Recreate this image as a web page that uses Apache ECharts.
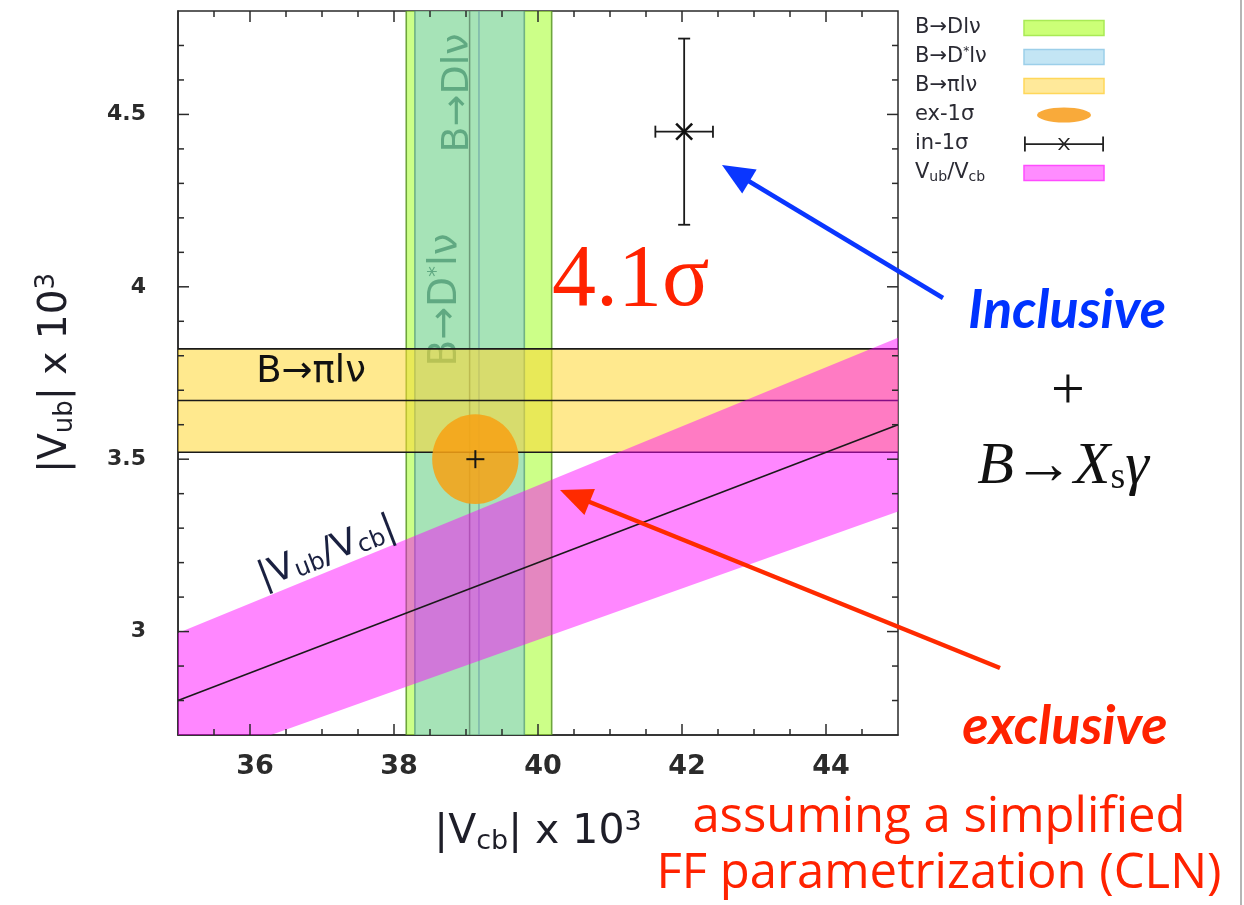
<!DOCTYPE html>
<html><head><meta charset="utf-8">
<script src="https://cdn.jsdelivr.net/npm/echarts@6/dist/echarts.min.js"></script>
<style>html,body{margin:0;padding:0;background:#fff}#c{width:1244px;height:905px}</style>
</head><body><div id="c"></div>
<script>
// ---------- data ----------
const xRange = [35, 45];
const yRange = [2.7, 4.8];
const xMajorTicks = [36, 38, 40, 42, 44];
const xMinorTicks = [35.5, 36.5, 37, 37.5, 38.5, 39, 39.5, 40.5, 41, 41.5, 42.5, 43, 43.5, 44.5];
const yMajorTicks = [3, 3.5, 4, 4.5];
const yMinorTicks = [2.8, 2.9, 3.1, 3.2, 3.3, 3.4, 3.6, 3.7, 3.8, 3.9, 4.1, 4.2, 4.3, 4.4, 4.6, 4.7];
const seriesNames = ['B→Dlν', 'B→D*lν', 'B→πlν', 'ex-1σ', 'in-1σ', 'Vub/Vcb'];
const bDlnu = [38.17, 40.19, 39.18];      // |Vcb| low, high, central
const bDstarlnu = [38.29, 39.81, 39.05];  // |Vcb| low, high, central
const bPilnu = [3.52, 3.82, 3.67];        // |Vub| low, high, central
const exclusive1s = [39.13, 3.50, 0.60, 0.13]; // x, y, dx, dy
const inclusive1s = [42.03, 4.45, 0.40, 0.27]; // x, y, dx, dy
const vubVcbRatio = [0.0744, 0.0856, 0.0800];  // low, high, central

// ---------- helpers ----------
function clipPoly(pts, r) {
  const X0 = r.x, X1 = r.x + r.width, Y0 = r.y, Y1 = r.y + r.height;
  const edges = [
    [p => p[0] >= X0, (a, b) => { const t = (X0 - a[0]) / (b[0] - a[0]); return [X0, a[1] + t * (b[1] - a[1])]; }],
    [p => p[0] <= X1, (a, b) => { const t = (X1 - a[0]) / (b[0] - a[0]); return [X1, a[1] + t * (b[1] - a[1])]; }],
    [p => p[1] >= Y0, (a, b) => { const t = (Y0 - a[1]) / (b[1] - a[1]); return [a[0] + t * (b[0] - a[0]), Y0]; }],
    [p => p[1] <= Y1, (a, b) => { const t = (Y1 - a[1]) / (b[1] - a[1]); return [a[0] + t * (b[0] - a[0]), Y1]; }]
  ];
  let out = pts;
  for (const [inside, inter] of edges) {
    const inp = out; out = [];
    for (let i = 0; i < inp.length; i++) {
      const cur = inp[i], prev = inp[(i + inp.length - 1) % inp.length];
      if (inside(cur)) { if (!inside(prev)) out.push(inter(prev, cur)); out.push(cur); }
      else if (inside(prev)) out.push(inter(prev, cur));
    }
  }
  return out;
}
function vBand(fill, edgeColor, centerColor) {
  return function (params, api) {
    const lo = api.value(0), hi = api.value(1), c = api.value(2);
    const a = api.coord([lo, yRange[1]]), b = api.coord([hi, yRange[0]]), m = api.coord([c, yRange[0]]);
    return { type: 'group', children: [
      { type: 'rect', shape: { x: a[0], y: a[1], width: b[0] - a[0], height: b[1] - a[1] }, style: { fill: fill } },
      { type: 'line', shape: { x1: a[0], y1: a[1], x2: a[0], y2: b[1] }, style: { stroke: edgeColor, lineWidth: 1.6 } },
      { type: 'line', shape: { x1: b[0], y1: a[1], x2: b[0], y2: b[1] }, style: { stroke: edgeColor, lineWidth: 1.6 } },
      { type: 'line', shape: { x1: m[0], y1: a[1], x2: m[0], y2: b[1] }, style: { stroke: centerColor, lineWidth: 1.5 } }
    ]};
  };
}
function hBand(fill, edgeColor, centerColor) {
  return function (params, api) {
    const lo = api.value(0), hi = api.value(1), c = api.value(2);
    const a = api.coord([xRange[0], hi]), b = api.coord([xRange[1], lo]), m = api.coord([xRange[1], c]);
    return { type: 'group', children: [
      { type: 'rect', shape: { x: a[0], y: a[1], width: b[0] - a[0], height: b[1] - a[1] }, style: { fill: fill } },
      { type: 'line', shape: { x1: a[0], y1: a[1], x2: b[0], y2: a[1] }, style: { stroke: edgeColor, lineWidth: 1.6 } },
      { type: 'line', shape: { x1: a[0], y1: b[1], x2: b[0], y2: b[1] }, style: { stroke: edgeColor, lineWidth: 1.6 } },
      { type: 'line', shape: { x1: a[0], y1: m[1], x2: b[0], y2: m[1] }, style: { stroke: centerColor, lineWidth: 1.5 } }
    ]};
  };
}
function ellipseItem(params, api) {
  const c = api.coord([api.value(0), api.value(1)]);
  const s = api.size([api.value(2), api.value(3)]);
  return { type: 'group', children: [
    { type: 'ellipse', shape: { cx: c[0], cy: c[1], rx: s[0], ry: s[1] }, style: { fill: 'rgba(247,162,20,0.86)' } },
    { type: 'line', shape: { x1: c[0] - 9, y1: c[1], x2: c[0] + 9, y2: c[1] }, style: { stroke: '#151515', lineWidth: 2 } },
    { type: 'line', shape: { x1: c[0], y1: c[1] - 9, x2: c[0], y2: c[1] + 9 }, style: { stroke: '#151515', lineWidth: 2 } }
  ]};
}
function errItem(params, api) {
  const x = api.value(0), y = api.value(1), dx = api.value(2), dy = api.value(3);
  const c = api.coord([x, y]), l = api.coord([x - dx, y]), r = api.coord([x + dx, y]);
  const t = api.coord([x, y + dy]), b = api.coord([x, y - dy]);
  const st = { stroke: '#1a1a1a', lineWidth: 1.8 };
  const cap = 6, k = 8;
  return { type: 'group', children: [
    { type: 'line', shape: { x1: l[0], y1: c[1], x2: r[0], y2: c[1] }, style: st },
    { type: 'line', shape: { x1: c[0], y1: t[1], x2: c[0], y2: b[1] }, style: st },
    { type: 'line', shape: { x1: l[0], y1: c[1] - cap, x2: l[0], y2: c[1] + cap }, style: st },
    { type: 'line', shape: { x1: r[0], y1: c[1] - cap, x2: r[0], y2: c[1] + cap }, style: st },
    { type: 'line', shape: { x1: c[0] - cap, y1: t[1], x2: c[0] + cap, y2: t[1] }, style: st },
    { type: 'line', shape: { x1: c[0] - cap, y1: b[1], x2: c[0] + cap, y2: b[1] }, style: st },
    { type: 'line', shape: { x1: c[0] - k, y1: c[1] - k, x2: c[0] + k, y2: c[1] + k }, style: { stroke: '#111', lineWidth: 2.6 } },
    { type: 'line', shape: { x1: c[0] - k, y1: c[1] + k, x2: c[0] + k, y2: c[1] - k }, style: { stroke: '#111', lineWidth: 2.6 } }
  ]};
}
function ratioItem(params, api) {
  const lo = api.value(0), hi = api.value(1), c = api.value(2);
  const cs = params.coordSys;
  const pts = [[xRange[0], lo * xRange[0]], [xRange[1], lo * xRange[1]], [xRange[1], hi * xRange[1]], [xRange[0], hi * xRange[0]]].map(p => api.coord(p));
  const poly = clipPoly(pts, cs);
  const l1 = api.coord([xRange[0], c * xRange[0]]), l2 = api.coord([xRange[1], c * xRange[1]]);
  return { type: 'group', children: [
    { type: 'polygon', shape: { points: poly }, style: { fill: 'rgba(255,0,255,0.47)' } },
    { type: 'line', shape: { x1: l1[0], y1: l1[1], x2: l2[0], y2: l2[1] }, style: { stroke: '#1a1a1a', lineWidth: 1.6 } }
  ]};
}
// inward ticks on both opposite frame sides, placed through the axis scales
const tickCol = '#2a2a2a';
function xTickItem(params, api) {
  const v = api.value(0), len = api.value(1) ? 11 : 6;
  const b = api.coord([v, yRange[0]]), t = api.coord([v, yRange[1]]);
  return { type: 'group', children: [
    { type: 'line', shape: { x1: b[0], y1: b[1], x2: b[0], y2: b[1] - len }, style: { stroke: tickCol, lineWidth: 1.5 } },
    { type: 'line', shape: { x1: t[0], y1: t[1], x2: t[0], y2: t[1] + len }, style: { stroke: tickCol, lineWidth: 1.5 } }
  ]};
}
function yTickItem(params, api) {
  const v = api.value(0), len = api.value(1) ? 11 : 6;
  const l = api.coord([xRange[0], v]), r = api.coord([xRange[1], v]);
  return { type: 'group', children: [
    { type: 'line', shape: { x1: l[0], y1: l[1], x2: l[0] + len, y2: l[1] }, style: { stroke: tickCol, lineWidth: 1.5 } },
    { type: 'line', shape: { x1: r[0], y1: r[1], x2: r[0] - len, y2: r[1] }, style: { stroke: tickCol, lineWidth: 1.5 } }
  ]};
}
function arrow(x1, y1, x2, y2, color, w, hl, hw) {
  const dx = x2 - x1, dy = y2 - y1, L = Math.hypot(dx, dy), ux = dx / L, uy = dy / L;
  const bx = x2 - ux * hl, by = y2 - uy * hl;
  return [
    { type: 'line', z: 30, shape: { x1: x1, y1: y1, x2: bx + ux * 2, y2: by + uy * 2 }, style: { stroke: color, lineWidth: w } },
    { type: 'polygon', z: 30, shape: { points: [[x2, y2], [bx - uy * hw, by + ux * hw], [bx + uy * hw, by - ux * hw]] }, style: { fill: color } }
  ];
}

// ---------- chart ----------
const chart = echarts.init(document.getElementById('c'), null, { renderer: 'canvas' });
const gridRect = { left: 178, right: 346, top: 11, bottom: 170 };
const tickFont = 'DejaVu Sans';
const axisCol = '#2a2a2a';
const xAxis = {
  type: 'value', gridIndex: 0, position: 'bottom', min: xRange[0], max: xRange[1],
  axisLine: { show: true, onZero: false, lineStyle: { color: axisCol, width: 1.5 } },
  axisTick: { show: false },
  axisLabel: { show: true, customValues: xMajorTicks, margin: 18, color: '#2b2b2b', fontFamily: tickFont, fontWeight: 'bold', fontSize: 27, padding: [0, 0, 0, 10] },
  splitLine: { show: false },
  name: '|V{sub|cb}| x 10{sup|3}', nameLocation: 'middle', nameGap: 74,
  nameTextStyle: { fontFamily: 'DejaVu Sans', fontSize: 41, color: '#1e1e28', lineHeight: 46,
    rich: { sub: { fontSize: 27, verticalAlign: 'bottom', fontFamily: 'DejaVu Sans', color: '#1e1e28' }, sup: { fontSize: 27, verticalAlign: 'top', fontFamily: 'DejaVu Sans', color: '#1e1e28' } } }
};
const yAxis = {
  type: 'value', gridIndex: 0, position: 'left', min: yRange[0], max: yRange[1],
  axisLine: { show: true, onZero: false, lineStyle: { color: axisCol, width: 1.5 } },
  axisTick: { show: false },
  axisLabel: { show: true, customValues: yMajorTicks, margin: 32, color: '#2b2b2b', fontFamily: tickFont, fontWeight: 'bold', fontSize: 22 },
  splitLine: { show: false },
  name: '|V{sub|ub}| x 10{sup|3}', nameLocation: 'middle', nameGap: 100, nameRotate: 90,
  nameTextStyle: { fontFamily: 'DejaVu Sans', fontSize: 39, color: '#1e1e28', lineHeight: 44,
    rich: { sub: { fontSize: 26, verticalAlign: 'bottom', fontFamily: 'DejaVu Sans', color: '#1e1e28' }, sup: { fontSize: 26, verticalAlign: 'top', fontFamily: 'DejaVu Sans', color: '#1e1e28' } } }
};

const errIcon = 'path://M0,6.8h80v1.6h-80Z M0,0h1.8v15h-1.8Z M78.2,0h1.8v15h-1.8Z M34,1.5L36,1.5L46,13.5L44,13.5Z M44,1.5L46,1.5L36,13.5L34,13.5Z';
const ellIcon = 'path://M0,0M80,15M13,7.5A27,7.5,0,1,1,67,7.5A27,7.5,0,1,1,13,7.5Z';
const legendText = { 'B→D*lν': '{t|B→D}{sup|*}{t|lν}', 'Vub/Vcb': '{t|V}{sub|ub}{t|/V}{sub|cb}' };
const legCol = '#2a2a33';

const option = {
  backgroundColor: '#ffffff',
  animation: false,
  grid: Object.assign({ show: true, borderColor: axisCol, borderWidth: 1.5, backgroundColor: '#fff', containLabel: false }, gridRect),
  xAxis: xAxis,
  yAxis: yAxis,
  legend: {
    orient: 'vertical', left: 910, top: 12, align: 'right', itemWidth: 80, itemHeight: 15, itemGap: 7,
    selectedMode: false,
    formatter: n => legendText[n] || ('{t|' + n + '}'),
    textStyle: { fontFamily: 'DejaVu Sans', fontSize: 21, color: legCol, width: 104, lineHeight: 22,
      rich: {
        t: { fontSize: 21, align: 'left', lineHeight: 22, color: legCol, fontFamily: 'DejaVu Sans' },
        sup: { fontSize: 12, align: 'left', verticalAlign: 'top', lineHeight: 22, color: legCol, fontFamily: 'DejaVu Sans' },
        sub: { fontSize: 14, align: 'left', verticalAlign: 'bottom', lineHeight: 22, color: legCol, fontFamily: 'DejaVu Sans' } } },
    data: [
      { name: seriesNames[0], icon: 'rect', itemStyle: { color: '#ccff77', borderColor: '#a9ea55', borderWidth: 1.5 } },
      { name: seriesNames[1], icon: 'rect', itemStyle: { color: '#c3e5f4', borderColor: '#9ccfe9', borderWidth: 1.5 } },
      { name: seriesNames[2], icon: 'rect', itemStyle: { color: '#ffe99a', borderColor: '#ffd75a', borderWidth: 1.5 } },
      { name: seriesNames[3], icon: ellIcon, itemStyle: { color: '#f9aa3a', borderWidth: 0 } },
      { name: seriesNames[4], icon: errIcon, itemStyle: { color: '#222', borderWidth: 0 } },
      { name: seriesNames[5], icon: 'rect', itemStyle: { color: '#ff8cff', borderColor: '#ff4cff', borderWidth: 1.5 } }
    ]
  },
  series: [
    { name: seriesNames[0], type: 'custom', z: 2, silent: true,
      renderItem: vBand('rgba(170,255,56,0.6)', 'rgba(90,150,40,0.85)', 'rgba(90,130,100,0.75)'), data: [bDlnu] },
    { name: seriesNames[1], type: 'custom', z: 3, silent: true,
      renderItem: vBand('rgba(129,200,229,0.51)', 'rgba(80,150,120,0.7)', 'rgba(90,130,100,0.75)'), data: [bDstarlnu] },
    { name: seriesNames[2], type: 'custom', z: 5, silent: true,
      renderItem: hBand('rgba(255,215,50,0.55)', '#1a1a1a', '#1a1a1a'), data: [bPilnu] },
    { name: seriesNames[3], type: 'custom', z: 6, silent: true,
      renderItem: ellipseItem, data: [exclusive1s] },
    { name: seriesNames[4], type: 'custom', z: 7, silent: true,
      renderItem: errItem, data: [inclusive1s] },
    { name: seriesNames[5], type: 'custom', z: 8, silent: true,
      renderItem: ratioItem, data: [vubVcbRatio] },
    { name: 'xticks', type: 'custom', z: 12, silent: true, renderItem: xTickItem,
      data: xMajorTicks.map(v => [v, 1]).concat(xMinorTicks.map(v => [v, 0])) },
    { name: 'yticks', type: 'custom', z: 12, silent: true, renderItem: yTickItem,
      data: yMajorTicks.map(v => [v, 1]).concat(yMinorTicks.map(v => [v, 0])) }
  ],
  graphic: [
    { type: 'text', z: 4, x: 458, y: 93, rotation: Math.PI / 2,
      style: { text: 'B→Dlν', font: '38px "DejaVu Sans"', fill: 'rgba(50,130,95,0.6)', align: 'center', verticalAlign: 'middle' } },
    { type: 'text', z: 4, x: 446, y: 300, rotation: Math.PI / 2,
      style: { text: 'B→D{sup|*}lν', font: '39px "DejaVu Sans"', fill: 'rgba(50,130,95,0.6)', align: 'center', verticalAlign: 'middle',
        rich: { sup: { font: '22px "DejaVu Sans"', fill: 'rgba(50,130,95,0.6)', verticalAlign: 'top' } } } },
    { type: 'text', z: 9, x: 311, y: 372,
      style: { text: 'B→πlν', font: '37px "DejaVu Sans"', fill: '#111', align: 'center', verticalAlign: 'middle' } },
    { type: 'text', z: 9, x: 327, y: 553, rotation: 0.37,
      style: { text: '|V{sub|ub}/V{sub|cb}|', font: '36px "DejaVu Sans"', fill: '#1a2040', align: 'center', verticalAlign: 'middle',
        rich: { sub: { font: '24px "DejaVu Sans"', fill: '#1a2040', verticalAlign: 'bottom' } } } },
    { type: 'text', z: 9, x: 552, y: 282,
      style: { text: '4.1σ', font: '88px "Liberation Serif"', fill: '#ff2200', align: 'left', verticalAlign: 'middle' } },
    { type: 'text', z: 30, x: 1067, y: 311,
      style: { text: 'Inclusive', font: 'italic bold 54px Lato', fill: '#0033ff', align: 'center', verticalAlign: 'middle' } },
    { type: 'text', z: 30, x: 1068, y: 392,
      style: { text: '+', font: '60px "Liberation Serif"', fill: '#111', align: 'center', verticalAlign: 'middle' } },
    { type: 'text', z: 30, x: 1063, y: 467,
      style: { text: '{b|B→X}{s|s}{b|γ}', font: 'italic 60px "Liberation Serif"', fill: '#111', align: 'center', verticalAlign: 'middle',
        rich: { b: { font: 'italic 60px "Liberation Serif"', fill: '#111' }, s: { font: '38px "Liberation Serif"', fill: '#111', verticalAlign: 'bottom' } } } },
    { type: 'text', z: 30, x: 1065, y: 727,
      style: { text: 'exclusive', font: 'italic bold 54px Lato', fill: '#ff2200', align: 'center', verticalAlign: 'middle' } },
    { type: 'text', z: 30, x: 939, y: 818,
      style: { text: 'assuming a simplified', font: '49px "Open Sans"', fill: '#ff2200', align: 'center', verticalAlign: 'middle' } },
    { type: 'text', z: 30, x: 939, y: 874,
      style: { text: 'FF parametrization (CLN)', font: '49px "Open Sans"', fill: '#ff2200', align: 'center', verticalAlign: 'middle' } },
    { type: 'line', z: 30, shape: { x1: 1241, y1: 0, x2: 1241, y2: 905 }, style: { stroke: '#b5b5b5', lineWidth: 2 } }
  ].concat(arrow(943, 298, 722, 165, '#0a36ff', 4.5, 32, 14), arrow(1000, 668, 560, 490, '#ff2a00', 4.5, 32, 14))
};
chart.setOption(option);
</script>
</body></html>
